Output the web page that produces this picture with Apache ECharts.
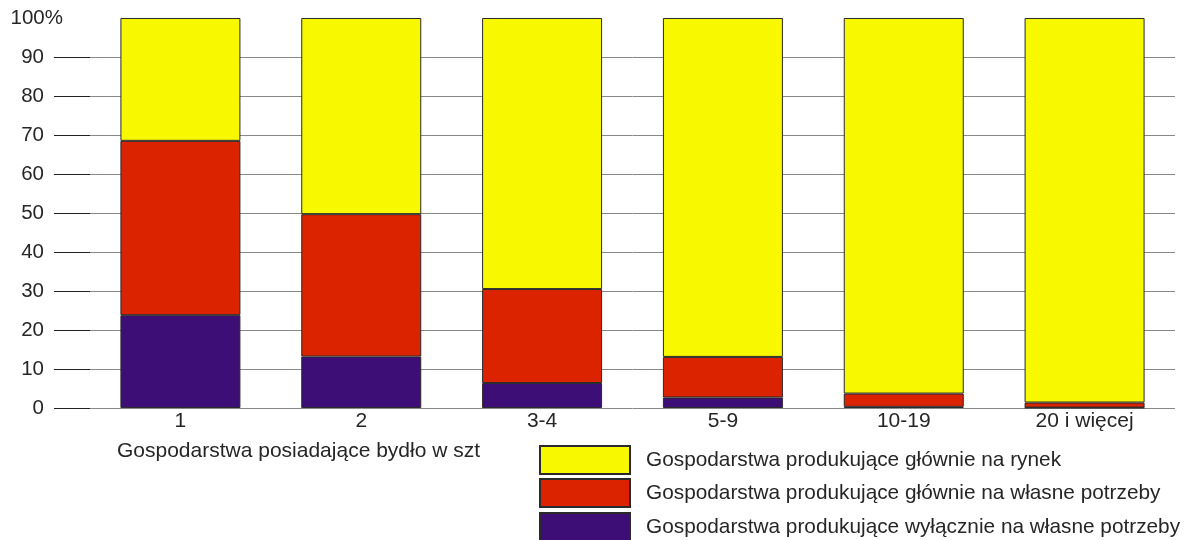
<!DOCTYPE html>
<html><head><meta charset="utf-8">
<script src="https://cdn.jsdelivr.net/npm/echarts@6/dist/echarts.min.js"></script>
<style>html,body{margin:0;padding:0;background:#fff}#c{width:1193px;height:540px}</style>
</head><body><div id="c"></div>
<script>
const categories = ['1', '2', '3-4', '5-9', '10-19', '20 i więcej'];
const exclusivelyOwn = [23.8, 13.2, 6.4, 2.7, 0.3, 0.1];
const mainlyOwn = [44.7, 36.5, 24.1, 10.4, 3.4, 1.3];
const mainlyMarket = [31.5, 50.3, 69.5, 86.9, 96.3, 98.6];
const yTicks = [0, 10, 20, 30, 40, 50, 60, 70, 80, 90, 100];
const names = ['Gospodarstwa produkujące głównie na rynek', 'Gospodarstwa produkujące głównie na własne potrzeby', 'Gospodarstwa produkujące wyłącznie na własne potrzeby'];
const xTitle = 'Gospodarstwa posiadające bydło w szt';

const FONT = 'Liberation Sans, Arial, sans-serif';
const TXT = '#262626';
const chart = echarts.init(document.getElementById('c'));
const border = {borderColor: '#2a2a2a', borderWidth: 1};
const legendTops = [445, 478, 512];
chart.setOption({
  animation: false,
  textStyle: {fontFamily: FONT},
  title: {text: xTitle, left: 117, top: 441, padding: 0, textStyle: {fontFamily: FONT, fontSize: 21, fontWeight: 'normal', color: TXT}},
  legend: names.map((n, i) => ({
    orient: 'vertical', left: 539, top: legendTops[i], padding: 0, itemWidth: 90, itemHeight: 28,
    icon: 'rect', data: [n], selectedMode: false,
    textStyle: {fontFamily: FONT, fontSize: 20.8, color: TXT, padding: [0, 0, 0, 11]}
  })),
  grid: {left: 90, right: 18, top: 18, bottom: 132},
  xAxis: {
    type: 'category', data: categories,
    axisLine: {show: false}, axisTick: {show: false},
    axisLabel: {fontFamily: FONT, fontSize: 21, color: TXT, margin: 3}
  },
  yAxis: {
    type: 'value', min: 0, max: 100, interval: 10,
    axisLine: {show: false},
    axisTick: {show: true, length: 36, customValues: yTicks.slice(0, 10), lineStyle: {color: '#222'}},
    splitLine: {lineStyle: {color: '#888', width: 1}},
    axisLabel: {
      fontFamily: FONT, fontSize: 20.5, color: TXT, margin: 27,
      formatter: v => v === 100 ? '{n|100%}' : '{n|' + v + '}{s| }',
      rich: {n: {fontFamily: FONT, fontSize: 20.5, color: TXT}, s: {width: 19}}
    }
  },
  series: [
    {name: names[2], type: 'bar', stack: 's', barWidth: 120, data: exclusivelyOwn, itemStyle: Object.assign({color: '#3c0e76'}, border)},
    {name: names[1], type: 'bar', stack: 's', barWidth: 120, data: mainlyOwn, itemStyle: Object.assign({color: '#dc2300'}, border)},
    {name: names[0], type: 'bar', stack: 's', barWidth: 120, data: mainlyMarket, itemStyle: Object.assign({color: '#f8f800'}, border)}
  ]
});
</script></body></html>
